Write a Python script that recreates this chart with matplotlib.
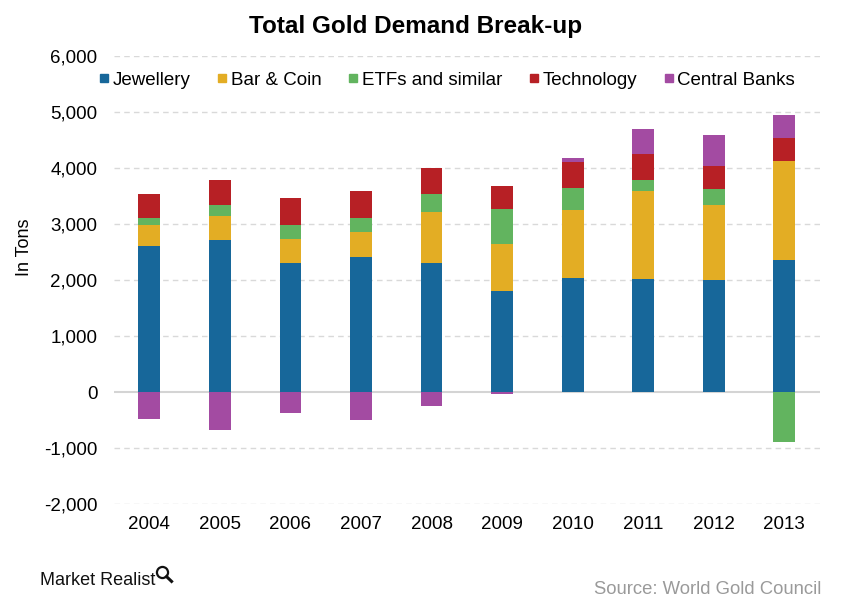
import numpy as np
import matplotlib
matplotlib.use('Agg')
import matplotlib.pyplot as plt
from matplotlib.lines import Line2D

plt.rcParams['font.family'] = ['Liberation Sans', 'DejaVu Sans']

years = ['2004', '2005', '2006', '2007', '2008', '2009', '2010', '2011', '2012', '2013']

# tons
jewellery = [2607, 2714, 2304, 2411, 2304, 1804, 2036, 2018, 2000, 2357]
bar_coin = [375, 429, 428, 446, 910, 839, 1214, 1571, 1339, 1768]
etfs = [125, 196, 250, 250, 322, 625, 393, 197, 286, -893]
technology = [429, 447, 482, 482, 464, 411, 464, 464, 411, 411]
central_banks = [-482, -679, -375, -500, -250, -34, 72, 446, 553, 410]

series = ['Jewellery', 'Bar & Coin', 'ETFs and similar', 'Technology', 'Central Banks']
colors = ['#17679a', '#e3ad24', '#62b45f', '#b72025', '#a34ba2']
values = [jewellery, bar_coin, etfs, technology, central_banks]

fig = plt.figure(figsize=(8.41, 6.05), dpi=100)
ax = fig.add_axes([0.1356, 0.167, 0.839, 0.74])

x = np.arange(len(years))
pos_bottom = np.zeros(len(years))
neg_bottom = np.zeros(len(years))
for name, col, vals in zip(series, colors, values):
    v = np.array(vals, dtype=float)
    bottom = np.where(v >= 0, pos_bottom, neg_bottom)
    ax.bar(x, v, 0.31, bottom=bottom, color=col, zorder=3)
    pos_bottom += np.where(v >= 0, v, 0)
    neg_bottom += np.where(v < 0, v, 0)

ax.set_xlim(-0.5, 9.5)
ax.set_ylim(-2000, 6000)
ax.set_yticks(range(-2000, 6001, 1000))
ax.set_yticklabels([f'{t:,}' for t in range(-2000, 6001, 1000)])
ax.set_xticks(x)
ax.set_xticklabels(years)
ax.tick_params(length=0, labelsize=13.5, colors='black')
ax.tick_params(axis='y', pad=12)
ax.tick_params(axis='x', pad=9)
for s in ax.spines.values():
    s.set_visible(False)
for t in range(-2000, 6001, 1000):
    if t == 0:
        ax.axhline(0, color='#d4d4d4', lw=1.5, zorder=2)
    else:
        ax.axhline(t, color='#d9d9d9', lw=1, ls=(0, (4, 3)), zorder=1)

ax.set_ylabel('In Tons', fontsize=13)
ax.yaxis.set_label_coords(-0.115, 0.574)

handles = [Line2D([], [], marker='s', ls='', color=c, markersize=6) for c in colors]
ax.legend(handles, series, ncol=5, loc='center', bbox_to_anchor=(0.472, 0.946),
          frameon=False, fontsize=13.5, handlelength=0.5, handletextpad=0.2,
          columnspacing=1.45)

fig.text(0.494, 0.957, 'Total Gold Demand Break-up', ha='center', va='center',
         fontsize=17.5, fontweight='bold')

fig.text(0.048, 0.041, 'Market Realist', fontsize=13, color='#111111', va='center')
# little magnifier icon next to the logo text
fig.add_artist(Line2D([0.193], [0.055], transform=fig.transFigure, marker='o',
                      markersize=8, mfc='none', mec='#111111', mew=1.6))
fig.add_artist(Line2D([0.198, 0.204], [0.047, 0.039], transform=fig.transFigure,
                      lw=2.2, color='#111111'))
fig.text(0.977, 0.025, 'Source: World Gold Council', ha='right', va='center',
         fontsize=13.3, color='#9a9a9a')

fig.savefig('out.png', dpi=100)
